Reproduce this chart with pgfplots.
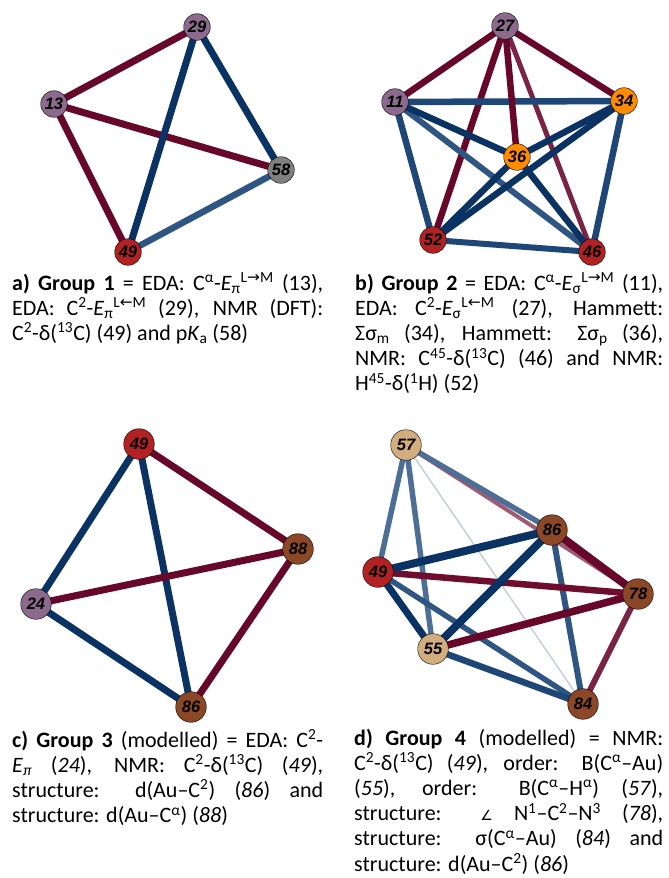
\documentclass[border=0pt]{standalone}
\usepackage{pgfplots}
\pgfplotsset{compat=1.18}
\usepackage{fontspec}
\setmainfont{Carlito}
\newfontfamily\labfont{Liberation Sans}
\newfontfamily\sym{DejaVu Sans}

% edge colours
\definecolor{ered}{HTML}{67082B}
\definecolor{eredl}{HTML}{7A2445}
\definecolor{eredm}{HTML}{6E0D2E}
\definecolor{eredp}{HTML}{A05A72}
\definecolor{eblue}{HTML}{0A3262}
\definecolor{bmid}{HTML}{1E4676}
\definecolor{blight}{HTML}{2F5582}
\definecolor{bpale}{HTML}{4D6F96}
\definecolor{bfaint}{HTML}{C5CFDB}
% node colours
\definecolor{purp}{HTML}{8C6A8D}
\definecolor{ngray}{HTML}{808080}
\definecolor{nred}{HTML}{B22222}
\definecolor{norange}{HTML}{FF8C00}
\definecolor{nbrown}{HTML}{8B4726}
\definecolor{ntan}{HTML}{D2AE7E}

\newcommand{\edge}[3]{\addplot[color=#1, line width=#2pt] coordinates {#3};}
\pgfplotsset{
  vert/.style={only marks, mark=*, mark size=#1pt,
    mark options={draw=black!75, line width=0.5pt},
    point meta=explicit symbolic, nodes near coords,
    nodes near coords style={anchor=center, inner sep=0pt, text=black}},
}
\newcommand{\capfont}{\fontsize{22}{25.2}\selectfont\tolerance=10000\hbadness=10000}

\begin{document}
\begin{tikzpicture}
\path[use as bounding box] (0,0) rectangle (669pt,878pt);
\begin{axis}[
    width=669pt, height=878pt, scale only axis,
    xmin=0, xmax=669, ymin=0, ymax=878, y dir=reverse,
    hide axis, clip=false]

% ---- a) Group 1
\edge{ered}{7}{(54,104) (197,27)}
\edge{ered}{7}{(54,104) (281,170)}
\edge{ered}{7}{(54,104) (128,252)}
\edge{eblue}{7}{(197,27) (128,252)}
\edge{eblue}{7}{(197,27) (281,170)}
\edge{blight}{6.5}{(128,252) (281,170)}

% ---- b) Group 2
\edge{ered}{6.5}{(505,26) (395,102)}
\edge{ered}{6.5}{(505,26) (624,101)}
\edge{ered}{6.5}{(505,26) (433,240)}
\edge{eredl}{5}{(505,26) (592,252)}
\edge{bmid}{6.5}{(395,102) (624,101)}
\edge{bmid}{6.5}{(395,102) (433,240)}
\edge{blight}{6}{(395,102) (592,252)}
\edge{eblue}{6.5}{(395,102) (517,157)}
\edge{bmid}{6.5}{(624,101) (592,252)}
\edge{eblue}{6.5}{(624,101) (433,240)}
\edge{bmid}{6}{(433,240) (592,252)}
\edge{eblue}{6.5}{(517,157) (592,252)}
\edge{eblue}{6.5}{(517,157) (433,240)}
\edge{eblue}{6.5}{(624,101) (517,157)}
\edge{ered}{6.5}{(505,26) (517,157)}

% ---- c) Group 3
\edge{eblue}{7}{(139,444) (36,604)}
\edge{eblue}{7}{(139,444) (191,707)}
\edge{eblue}{7}{(36,604) (191,707)}
\edge{ered}{7}{(139,444) (298,549)}
\edge{ered}{7}{(36,604) (298,549)}
\edge{ered}{7}{(298,549) (191,707)}

% ---- d) Group 4
\edge{bfaint}{1.5}{(406,445) (583,704)}
\edge{eredp}{4}{(406,445) (638,594)}
\edge{bpale}{5.5}{(406,445) (552,530)}
\edge{bpale}{5.5}{(406,445) (378,572)}
\edge{bpale}{5.5}{(406,445) (433,649)}
\edge{blight}{5.5}{(378,572) (583,704)}
\edge{blight}{6}{(552,530) (583,704)}
\edge{bmid}{6.5}{(433,649) (583,704)}
\edge{eredl}{6}{(638,594) (583,704)}
\edge{eredm}{6.5}{(378,572) (638,594)}
\edge{ered}{7.5}{(433,649) (638,594)}
\edge{ered}{8}{(552,530) (638,594)}
\edge{eblue}{7}{(378,572) (433,649)}
\edge{eblue}{8}{(378,572) (552,530)}
\edge{eblue}{8}{(552,530) (433,649)}

% ---- vertices
\pgfplotsset{every node near coord/.append style={font=\labfont\fontsize{15}{15}\selectfont\bfseries\itshape}}
\addplot[vert=13.3, mark options={fill=purp}] coordinates {(197,27) [29] (54,104) [13] (505,26) [27] (395,102) [11]};
\addplot[vert=13.3, mark options={fill=ngray}] coordinates {(281,170) [58]};
\addplot[vert=13.3, mark options={fill=nred}] coordinates {(128,252) [49] (433,240) [52] (592,252) [46]};
\addplot[vert=13.3, mark options={fill=norange}] coordinates {(624,101) [34] (517,157) [36]};
\pgfplotsset{every node near coord/.append style={font=\labfont\fontsize{16.5}{16.5}\selectfont\bfseries\itshape}}
\addplot[vert=15.3, mark options={fill=purp}] coordinates {(36,604) [24]};
\addplot[vert=15.3, mark options={fill=nred}] coordinates {(139,444) [49] (378,572) [49]};
\addplot[vert=15.3, mark options={fill=nbrown}] coordinates {(298,549) [88] (191,707) [86] (552,530) [86] (638,594) [78] (583,704) [84]};
\addplot[vert=15.3, mark options={fill=ntan}] coordinates {(406,445) [57] (433,649) [55]};

% ---- captions
\node[anchor=base west, text width=311pt, align=justify, inner sep=0pt, font=\capfont] at (axis cs:12,290)
 {\textbf{a) Group 1} = EDA: C\textsuperscript{α}-\textit{E}\textsubscript{π}\textsuperscript{L{\sym →}M} (13),\linebreak
 EDA: C\textsuperscript{2}-\textit{E}\textsubscript{π}\textsuperscript{L{\sym ←}M} (29), NMR (DFT):\linebreak
 C\textsuperscript{2}-δ(\textsuperscript{13}C) (49) and p\textit{K}\textsubscript{a} (58)};
\node[anchor=base west, text width=308pt, align=justify, inner sep=0pt, font=\capfont] at (axis cs:355,290)
 {\textbf{b) Group 2} = EDA: C\textsuperscript{α}-\textit{E}\textsubscript{σ}\textsuperscript{L{\sym →}M} (11),\linebreak
 EDA: C\textsuperscript{2}-\textit{E}\textsubscript{σ}\textsuperscript{L{\sym ←}M} (27), Hammett:\linebreak
 Σσ\textsubscript{m} (34), Hammett: Σσ\textsubscript{p} (36),\linebreak
 NMR: C\textsuperscript{45}-δ(\textsuperscript{13}C) (46) and NMR:\linebreak
 H\textsuperscript{45}-δ(\textsuperscript{1}H) (52)};
\node[anchor=base west, text width=311pt, align=justify, inner sep=0pt, font=\capfont] at (axis cs:12,747)
 {\textbf{c) Group 3} (modelled) = EDA: C\textsuperscript{2}-\linebreak
 \textit{E}\textsubscript{\textit{π}} (\textit{24}), NMR: C\textsuperscript{2}-δ(\textsuperscript{13}C) (\textit{49}),\linebreak
 structure: d(Au–C\textsuperscript{2}) (\textit{86}) and\linebreak
 structure: d(Au–C\textsuperscript{α}) (\textit{88})};
\node[anchor=base west, text width=309pt, align=justify, inner sep=0pt, font=\capfont] at (axis cs:354,745)
 {\textbf{d) Group 4} (modelled) = NMR:\linebreak
 C\textsuperscript{2}-δ(\textsuperscript{13}C) (\textit{49}), order: B(C\textsuperscript{α}–Au)\linebreak
 (\textit{55}), order: B(C\textsuperscript{α}–H\textsuperscript{α}) (\textit{57}),\linebreak
 structure: {\sym\fontsize{14}{14}\selectfont ∠} N\textsuperscript{1}–C\textsuperscript{2}–N\textsuperscript{3} (\textit{78}),\linebreak
 structure: σ(C\textsuperscript{α}–Au) (\textit{84}) and\linebreak
 structure: d(Au–C\textsuperscript{2}) (\textit{86})};
\end{axis}
\end{tikzpicture}
\end{document}
